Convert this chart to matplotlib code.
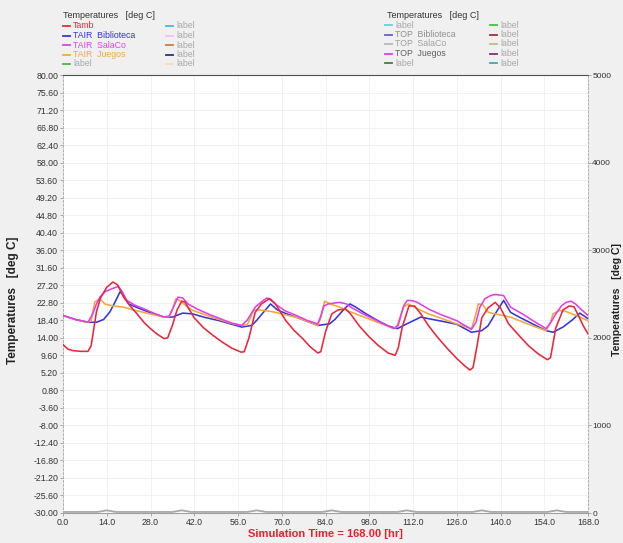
import matplotlib
matplotlib.use("Agg")
import matplotlib.pyplot as plt
from matplotlib.lines import Line2D

plt.rcParams['font.family'] = ['Liberation Sans', 'DejaVu Sans']

# ---- data: simulation time [hr] and temperatures [deg C] ----
t_amb = [0, 1.5, 3, 5.5, 8, 9, 10.7, 12, 14, 16, 17.5, 19.4, 21.5, 23.7, 26, 28, 30, 32.3, 33.5, 35,
         36.5, 38, 39, 40.5, 42, 45, 48, 51, 54, 57, 58, 59.5, 61.5, 63.5, 66, 68, 71.3, 74, 76.7, 79,
         81.5, 82.5, 84, 86, 88, 90.5, 92, 95, 98, 101, 104, 106.3, 107.3, 108.5, 110.7, 112.5, 114.5,
         117, 120, 123, 126, 128.5, 130.2, 131.2, 132.5, 134, 136, 138.3, 140, 142.6, 146, 149, 152,
         155, 156, 157.7, 160, 162, 163.5, 165, 166.5, 168]
tamb = [12.3, 11.2, 10.8, 10.6, 10.6, 12.0, 20.5, 24.0, 26.7, 28.0, 27.3, 24.2, 22.0, 20.0, 17.8,
        16.3, 15.0, 13.8, 14.0, 17.1, 21.0, 23.2, 23.0, 21.0, 19.0, 16.5, 14.6, 12.9, 11.4, 10.4,
        10.5, 14.0, 20.4, 22.5, 23.8, 22.5, 18.3, 15.8, 13.8, 11.8, 10.2, 10.5, 15.5, 20.0, 21.0,
        21.2, 20.0, 16.8, 14.2, 12.0, 10.2, 9.6, 11.5, 16.5, 22.0, 22.0, 20.0, 17.0, 14.0, 11.3,
        8.8, 7.0, 5.9, 6.5, 12.0, 19.0, 21.5, 22.9, 21.5, 17.5, 14.5, 12.0, 10.0, 8.5, 9.0, 16.5,
        21.0, 22.0, 21.8, 19.5, 17.0, 15.0]

t_bib = [0, 4, 8, 10.7, 13, 15, 16.6, 18.3, 19.5, 21, 24, 28, 32.3, 35, 38.3, 41.5, 45, 50, 54, 57.2,
         60.4, 62, 63.7, 66.4, 68.6, 71, 74.5, 78, 81.5, 85.3, 87, 88.6, 90.3, 91.8, 93.5, 97, 101,
         104, 107, 110, 114.5, 117, 121, 126, 130.7, 134, 136, 138.3, 141, 143.2, 146, 150, 154.6,
         156.8, 160, 163, 165.4, 168]
tair_biblioteca = [19.6, 18.6, 17.9, 17.9, 18.6, 20.5, 22.9, 25.6, 24.5, 22.5, 21.5, 20.3, 19.2,
                   19.2, 20.2, 20.0, 19.2, 18.3, 17.4, 16.7, 17.1, 18.4, 20.0, 22.5, 21.0, 20.2,
                   19.2, 18.2, 17.1, 17.5, 18.6, 20.0, 21.5, 22.5, 21.8, 20.0, 18.2, 17.0, 16.3,
                   17.5, 19.2, 18.8, 18.2, 17.4, 15.4, 15.8, 17.0, 20.0, 23.4, 20.4, 19.2, 17.6,
                   15.8, 15.4, 16.7, 18.5, 20.2, 18.8]

t_sala = [0, 4, 8, 9.5, 10.7, 11.8, 13.5, 15.6, 17.7, 19, 20.4, 23, 25.8, 29, 32.3, 34, 35.5, 36.8,
          38.3, 40, 43, 47, 51, 54, 57.2, 59, 61.5, 63.5, 65.2, 66.5, 67.9, 71, 75, 78, 81.5, 82.5,
          83.5, 84.8, 86.5, 88.6, 90.7, 92.5, 96, 100, 103, 106, 107.2, 108, 109, 110.2, 111.8,
          113.4, 117, 121, 126, 130.7, 132.2, 133.4, 135, 136.8, 138.3, 141, 143.2, 147, 151,
          154.6, 156.2, 157.7, 159.5, 161, 162.6, 164, 166, 168]
tair_salaco = [19.6, 18.6, 17.9, 20.0, 22.5, 24.2, 25.6, 26.3, 26.9, 25.5, 23.4, 22.2, 21.3, 20.2,
               19.2, 19.5, 22.0, 24.2, 24.0, 22.5, 21.2, 19.8, 18.6, 17.7, 17.1, 18.5, 21.7, 23.0,
               24.0, 23.7, 22.5, 20.8, 19.5, 18.4, 17.5, 19.5, 22.0, 22.5, 22.7, 22.9, 22.5, 21.5,
               20.0, 18.5, 17.3, 16.3, 17.0, 19.2, 22.0, 23.4, 23.3, 22.9, 21.2, 19.8, 18.3, 16.1,
               18.0, 21.7, 23.8, 24.6, 24.9, 24.6, 21.7, 20.0, 18.0, 16.3, 18.0, 20.0, 22.0, 22.9,
               23.2, 22.5, 21.0, 19.6]

t_jue = [0, 4, 8, 9, 10.2, 11.8, 13.4, 16, 19.4, 22.5, 25.8, 29, 32.3, 34, 35, 36.1, 37.5, 39.9,
         41.5, 45, 50, 54, 57.2, 59, 61, 62.6, 65, 68, 71, 74.5, 78, 81.5, 82.5, 83.7, 85.5, 88.6,
         90.7, 93, 97, 101, 104, 105.9, 107, 108, 109, 110.5, 113.4, 117, 121, 126, 130.7, 131.8,
         132.9, 134.3, 136.1, 139, 143.2, 147, 151, 154.6, 155.8, 156.8, 158.8, 161, 165.4, 168]
tair_juegos = [19.6, 18.6, 17.9, 18.3, 23.0, 23.8, 22.5, 22.0, 21.7, 21.0, 20.4, 19.8, 19.2, 19.3,
               21.0, 23.8, 23.3, 21.7, 20.9, 19.9, 18.6, 17.6, 17.1, 17.3, 20.9, 21.0, 20.8, 20.4,
               19.8, 19.2, 18.2, 17.1, 19.0, 23.2, 22.5, 21.7, 20.9, 20.2, 19.0, 17.8, 16.9, 16.3,
               17.2, 19.5, 21.7, 22.5, 21.3, 20.0, 18.9, 17.5, 16.3, 19.0, 22.5, 22.3, 20.4, 19.9,
               19.2, 18.0, 16.8, 15.8, 17.5, 20.0, 20.9, 20.6, 19.2, 18.3]

# secondary-axis series (near zero on the 0..5000 scale)
t_top = [0, 11, 14, 17, 35, 38, 41, 59, 62, 65, 83, 86, 89, 107, 110, 113, 131, 134, 137, 155, 158,
         161, 168]
top_salaco = [12, 12, 30, 12, 12, 30, 12, 12, 30, 12, 12, 30, 12, 12, 30, 12, 12, 30, 12, 12, 30,
              12, 12]

x_ticks = [0, 14, 28, 42, 56, 70, 84, 98, 112, 126, 140, 154, 168]
y_ticks = [80.0, 75.6, 71.2, 66.8, 62.4, 58.0, 53.6, 49.2, 44.8, 40.4, 36.0, 31.6, 27.2, 22.8, 18.4,
           14.0, 9.6, 5.2, 0.8, -3.6, -8.0, -12.4, -16.8, -21.2, -25.6, -30.0]
y2_ticks = [0, 1000, 2000, 3000, 4000, 5000]

# ---- colours ----
C_AMB = '#e8283a'
C_BIB = '#3535d8'
C_SALA = '#e040e8'
C_JUE = '#f4a838'
BG = '#f0f0f0'

W, H = 623, 543
fig = plt.figure(figsize=(W / 100, H / 100), dpi=100, facecolor=BG)
L, R, T, B = 63, 588, 75, 513
ax = fig.add_axes([L / W, 1 - B / H, (R - L) / W, (B - T) / H])
ax.set_facecolor('white')

ax.set_xlim(0, 168)
ax.set_ylim(-30, 80)
ax.set_xticks(x_ticks)
ax.set_xticklabels([f"{v:.1f}" for v in x_ticks])
ax.set_yticks(y_ticks)
ax.set_yticklabels([f"{v:.2f}" for v in y_ticks])
ax.tick_params(axis='both', labelsize=6.3, colors='#9a9a9a', labelcolor='#333333',
               length=2, width=0.6, pad=1.5)
ax.grid(True, color='#efefef', linewidth=0.6)
ax.set_axisbelow(True)

for side in ('left', 'right'):
    ax.spines[side].set_color('#b0b0b0')
    ax.spines[side].set_linestyle((0, (2, 2)))
    ax.spines[side].set_linewidth(0.7)
ax.spines['top'].set_color('#505050')
ax.spines['top'].set_linewidth(0.8)
ax.spines['bottom'].set_color('#a0a0a0')
ax.spines['bottom'].set_linewidth(0.8)

lw = 1.15
ax.plot(t_bib, tair_biblioteca, color=C_BIB, lw=lw, zorder=3)
ax.plot(t_jue, tair_juegos, color=C_JUE, lw=lw, zorder=3)
ax.plot(t_sala, tair_salaco, color=C_SALA, lw=lw, zorder=4)
ax.plot(t_amb, tamb, color=C_AMB, lw=lw, zorder=5)

ax2 = ax.twinx()
ax2.set_ylim(0, 5000)
ax2.set_yticks(y2_ticks)
ax2.set_yticklabels([str(v) for v in y2_ticks])
ax2.tick_params(axis='y', labelsize=6.0, colors='#9a9a9a', labelcolor='#333333',
                length=2, width=0.6, pad=1.0)
for s in ax2.spines.values():
    s.set_visible(False)
ax2.plot(t_top, top_salaco, color='#a8a8a8', lw=1.3, zorder=2)

# axis titles
fig.text(13 / W, 1 - 300 / H, 'Temperatures   [deg C]', rotation=90, ha='center', va='center',
         fontsize=8.5, fontweight='bold', color='#222222')
fig.text(617 / W, 1 - 300 / H, 'Temperatures   [deg C]', rotation=90, ha='center', va='center',
         fontsize=7.6, fontweight='bold', color='#222222')
fig.text((L + R) / 2 / W, 1 - 534 / H, 'Simulation Time = 168.00 [hr]', ha='center', va='center',
         fontsize=8, fontweight='bold', color='#e8202a')

# legend blocks drawn in figure pixels
def legend_entry(x, y, line_color, text, text_color):
    fig.add_artist(Line2D([x / W, (x + 7) / W], [1 - y / H, 1 - y / H], color=line_color,
                          lw=1.3, transform=fig.transFigure))
    fig.text((x + 10) / W, 1 - y / H, text, ha='left', va='center', fontsize=6.3,
             color=text_color)

GREY_TXT = '#a8a8a8'
fig.text(63 / W, 1 - 15 / H, 'Temperatures   [deg C]', ha='left', va='center', fontsize=6.5,
         color='#333333')
rows = [26, 35.5, 45, 54.5, 64]
left_col1 = [(C_AMB, 'Tamb', C_AMB), (C_BIB, 'TAIR  Biblioteca', C_BIB),
             (C_SALA, 'TAIR  SalaCo', C_SALA), (C_JUE, 'TAIR  Juegos', C_JUE),
             ('#40c040', 'label', GREY_TXT)]
left_col2 = [('#40b8e8', 'label', GREY_TXT), ('#f0c0f0', 'label', GREY_TXT),
             ('#c08048', 'label', GREY_TXT), ('#303078', 'label', GREY_TXT),
             ('#f8dcb8', 'label', GREY_TXT)]
for y, (lc, txt, tc) in zip(rows, left_col1):
    legend_entry(63, y, lc, txt, tc)
for y, (lc, txt, tc) in zip(rows, left_col2):
    legend_entry(166, y, lc, txt, tc)

fig.text(387 / W, 1 - 15 / H, 'Temperatures   [deg C]', ha='left', va='center', fontsize=6.5,
         color='#333333')
right_col1 = [('#60d0d8', 'label', GREY_TXT), ('#6060c8', 'TOP  Biblioteca', '#909090'),
              ('#b8b8b8', 'TOP  SalaCo', '#a0a0a0'), ('#e040e0', 'TOP  Juegos', '#606060'),
              ('#408040', 'label', GREY_TXT)]
right_col2 = [('#40c040', 'label', GREY_TXT), ('#a03030', 'label', GREY_TXT),
              ('#c8b888', 'label', GREY_TXT), ('#803080', 'label', GREY_TXT),
              ('#40a8a8', 'label', GREY_TXT)]
for y, (lc, txt, tc) in zip(rows, right_col1):
    legend_entry(385, y - 1, lc, txt, tc)
for y, (lc, txt, tc) in zip(rows, right_col2):
    legend_entry(490, y - 1, lc, txt, tc)

fig.savefig('out.png', dpi=100, facecolor=BG)
